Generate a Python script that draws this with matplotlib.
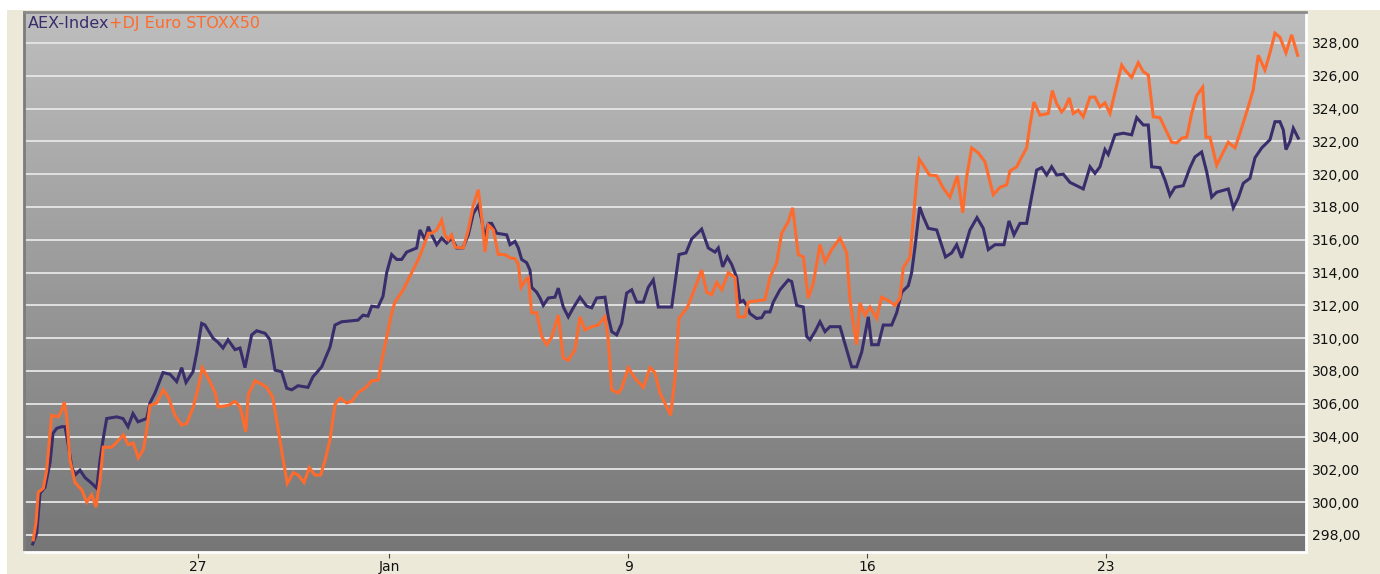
import numpy as np
import matplotlib
matplotlib.use("Agg")
import matplotlib.pyplot as plt
from matplotlib.ticker import FuncFormatter, FixedLocator
from matplotlib.colors import LinearSegmentedColormap

# time in trading days relative to Dec 27 open
aex_t = [-3.458, -3.374, -3.305, -3.201, -3.096, -3.033, -2.956, -2.851, -2.782, -2.720,
         -2.642, -2.573, -2.469, -2.364, -2.224, -2.119, -2.050, -1.987, -1.910, -1.701,
         -1.569, -1.464, -1.360, -1.255, -1.073, -1.004, -0.900, -0.732, -0.586, -0.446,
         -0.341, -0.251, -0.105, -0.027, 0.077, 0.146, 0.314, 0.418, 0.523, 0.628,
         0.774, 0.879, 0.983, 1.046, 1.123, 1.228, 1.402, 1.506, 1.611, 1.751,
         1.856, 1.960, 2.092, 2.301, 2.406, 2.588, 2.761, 2.866, 3.006, 3.347,
         3.452, 3.556, 3.634, 3.766, 3.870, 3.948, 4.052, 4.157, 4.261, 4.366,
         4.575, 4.644, 4.749, 4.818, 4.889, 4.994, 5.098, 5.203, 5.307, 5.412,
         5.544, 5.655, 5.759, 5.864, 5.935, 6.004, 6.073, 6.144, 6.249, 6.458,
         6.527, 6.632, 6.701, 6.772, 6.876, 6.945, 6.981, 7.086, 7.155, 7.224,
         7.328, 7.468, 7.537, 7.642, 7.747, 7.851, 7.991, 8.132, 8.236, 8.341,
         8.514, 8.583, 8.655, 8.759, 8.864, 8.968, 9.073, 9.178, 9.316, 9.420,
         9.525, 9.629, 9.910, 9.979, 10.063, 10.209, 10.328, 10.537, 10.675, 10.816,
         10.885, 10.977, 11.073, 11.165, 11.270, 11.339, 11.408, 11.479, 11.548, 11.688,
         11.793, 11.862, 11.966, 12.035, 12.175, 12.349, 12.420, 12.525, 12.663, 12.734,
         12.803, 12.908, 13.012, 13.117, 13.221, 13.431, 13.571, 13.675, 13.780, 13.885,
         14.023, 14.094, 14.232, 14.336, 14.512, 14.617, 14.721, 14.860, 14.930, 15.000,
         15.098, 15.173, 15.278, 15.454, 15.638, 15.767, 15.872, 15.976, 16.150, 16.297,
         16.428, 16.533, 16.673, 16.862, 16.966, 17.071, 17.196, 17.336, 17.441, 17.546,
         17.650, 17.755, 17.859, 17.964, 18.102, 18.242, 18.382, 18.520, 18.661, 18.765,
         18.870, 18.974, 19.043, 19.184, 19.357, 19.533, 19.638, 19.776, 19.880, 19.951,
         20.125, 20.230, 20.334, 20.439, 20.612, 20.753, 20.857, 20.997, 21.102, 21.207,
         21.311, 21.554, 21.659, 21.763, 21.868, 22.008, 22.112, 22.253, 22.426, 22.531,
         22.635, 22.705, 22.761, 22.845, 22.914, 23.018]
aex_v = [297.45, 298.1, 300.55, 300.9, 302.4, 304.2, 304.5, 304.6, 304.6, 303.6,
         302.15, 301.65, 301.95, 301.5, 301.15, 300.85, 302.55, 303.8, 305.1, 305.2,
         305.1, 304.6, 305.4, 304.9, 305.1, 306.05, 306.65, 307.9, 307.8, 307.35,
         308.2, 307.3, 307.95, 309.1, 310.9, 310.8, 310.0, 309.75, 309.4, 309.9,
         309.3, 309.4, 308.2, 309.1, 310.2, 310.45, 310.3, 309.9, 308.05, 307.95,
         306.95, 306.85, 307.1, 307.0, 307.65, 308.25, 309.45, 310.8, 311.0, 311.1,
         311.4, 311.35, 311.95, 311.9, 312.55, 314.0, 315.1, 314.8, 314.8, 315.25,
         315.5, 316.6, 316.0, 316.8, 316.3, 315.7, 316.1, 315.8, 316.1, 315.5,
         315.5, 316.3, 317.6, 318.1, 317.2, 316.1, 317.0, 317.0, 316.4, 316.3,
         315.7, 315.9, 315.5, 314.8, 314.6, 314.15, 313.1, 312.8, 312.45, 312.0,
         312.45, 312.5, 313.05, 311.9, 311.3, 311.85, 312.5, 311.95, 311.85, 312.45,
         312.5, 311.3, 310.4, 310.2, 310.9, 312.75, 312.95, 312.2, 312.2, 313.1,
         313.55, 311.9, 311.9, 313.35, 315.1, 315.2, 316.05, 316.65, 315.5, 315.25,
         315.5, 314.35, 314.95, 314.5, 313.7, 312.2, 312.3, 312.0, 311.5, 311.2,
         311.25, 311.6, 311.6, 312.2, 312.95, 313.55, 313.45, 312.0, 311.9, 310.1,
         309.9, 310.4, 311.0, 310.4, 310.7, 310.7, 309.3, 308.25, 308.25, 309.15,
         311.3, 309.6, 309.6, 310.8, 310.8, 311.55, 312.8, 313.2, 314.0, 315.55,
         318.0, 317.4, 316.7, 316.6, 314.95, 315.2, 315.7, 314.9, 316.6, 317.35,
         316.7, 315.4, 315.7, 315.7, 317.15, 316.3, 317.0, 317.0, 318.65, 320.25,
         320.4, 319.95, 320.45, 319.95, 320.0, 319.5, 319.3, 319.1, 320.45, 320.05,
         320.45, 321.5, 321.2, 322.4, 322.5, 322.4, 323.45, 323.0, 323.0, 320.45,
         320.4, 319.65, 318.7, 319.2, 319.3, 320.4, 321.05, 321.35, 320.15, 318.6,
         318.9, 319.1, 317.95, 318.55, 319.45, 319.75, 321.0, 321.6, 322.1, 323.2,
         323.2, 322.7, 321.5, 322.0, 322.8, 322.2]

stoxx_t = [-3.446, -3.389, -3.341, -3.236, -3.165, -3.061, -2.922, -2.851, -2.797, -2.747,
           -2.678, -2.573, -2.433, -2.328, -2.224, -2.134, -2.050, -1.981, -1.805, -1.701,
           -1.563, -1.458, -1.354, -1.249, -1.144, -1.073, -1.004, -0.864, -0.726, -0.621,
           -0.481, -0.341, -0.236, -0.098, 0.006, 0.090, 0.215, 0.356, 0.425, 0.634,
           0.774, 0.879, 0.948, 0.998, 1.052, 1.192, 1.297, 1.437, 1.563, 1.680,
           1.784, 1.868, 1.994, 2.098, 2.218, 2.328, 2.448, 2.567, 2.657, 2.761,
           2.866, 2.971, 3.111, 3.215, 3.353, 3.494, 3.634, 3.772, 3.843, 3.948,
           4.052, 4.121, 4.295, 4.471, 4.609, 4.713, 4.818, 4.889, 4.994, 5.098,
           5.167, 5.236, 5.307, 5.376, 5.550, 5.655, 5.759, 5.864, 5.935, 6.004,
           6.073, 6.178, 6.282, 6.422, 6.527, 6.632, 6.701, 6.757, 6.876, 6.910,
           6.981, 7.086, 7.190, 7.295, 7.399, 7.537, 7.642, 7.747, 7.887, 7.991,
           8.096, 8.236, 8.374, 8.514, 8.583, 8.655, 8.793, 8.864, 9.002, 9.142,
           9.316, 9.456, 9.560, 9.665, 9.805, 9.889, 9.979, 10.063, 10.240, 10.362,
           10.537, 10.642, 10.747, 10.851, 10.956, 11.094, 11.234, 11.303, 11.443, 11.512,
           11.862, 11.966, 12.106, 12.211, 12.349, 12.441, 12.558, 12.663, 12.767, 12.872,
           13.012, 13.117, 13.257, 13.431, 13.571, 13.640, 13.709, 13.780, 13.849, 13.954,
           14.058, 14.198, 14.303, 14.441, 14.581, 14.686, 14.755, 14.895, 14.964, 15.035,
           15.090, 15.173, 15.299, 15.454, 15.592, 15.732, 15.885, 15.941, 15.997, 16.081,
           16.186, 16.324, 16.464, 16.638, 16.778, 16.918, 16.987, 17.127, 17.196, 17.336,
           17.405, 17.489, 17.615, 17.788, 17.872, 17.964, 18.068, 18.138, 18.227, 18.311,
           18.416, 18.520, 18.661, 18.765, 18.870, 18.974, 19.079, 19.184, 19.324, 19.393,
           19.533, 19.671, 19.776, 19.880, 19.985, 20.125, 20.230, 20.370, 20.474, 20.579,
           20.684, 20.788, 20.893, 21.018, 21.087, 21.171, 21.311, 21.449, 21.554, 21.694,
           21.799, 21.971, 22.076, 22.181, 22.321, 22.426, 22.531, 22.635, 22.761, 22.880,
           23.006]
stoxx_v = [297.7, 298.75, 300.6, 300.85, 301.95, 305.3, 305.2, 305.6, 306.1, 305.2,
           302.55, 301.2, 300.75, 300.0, 300.45, 299.7, 301.35, 303.35, 303.35, 303.65,
           304.1, 303.5, 303.6, 302.7, 303.2, 304.4, 305.9, 306.05, 306.85, 306.4,
           305.3, 304.7, 304.8, 305.8, 307.0, 308.2, 307.55, 306.7, 305.8, 305.9,
           306.15, 305.8, 305.0, 304.3, 306.55, 307.4, 307.25, 307.0, 306.4, 304.4,
           302.55, 301.15, 301.8, 301.65, 301.2, 302.1, 301.65, 301.65, 302.55, 303.8,
           305.95, 306.35, 306.05, 306.15, 306.7, 306.95, 307.4, 307.45, 308.6, 310.05,
           311.55, 312.2, 312.95, 314.0, 314.8, 315.55, 316.4, 316.4, 316.6, 317.2,
           316.3, 316.0, 316.3, 315.55, 315.5, 316.6, 318.1, 319.05, 317.4, 315.25,
           316.9, 316.6, 315.1, 315.1, 314.9, 314.85, 314.5, 313.1, 313.65, 313.7,
           311.55, 311.55, 310.1, 309.6, 310.05, 311.4, 308.8, 308.65, 309.3, 311.3,
           310.5, 310.7, 310.8, 311.3, 309.9, 306.85, 306.65, 306.95, 308.2, 307.55,
           307.0, 308.2, 307.9, 306.65, 305.8, 305.3, 307.6, 311.2, 311.9, 312.8,
           314.15, 312.8, 312.65, 313.4, 312.95, 314.0, 313.7, 311.3, 311.3, 312.2,
           312.35, 313.7, 314.6, 316.4, 317.1, 317.95, 315.1, 314.95, 312.45, 313.35,
           315.7, 314.65, 315.4, 316.1, 315.2, 312.35, 310.9, 309.6, 312.15, 311.4,
           311.9, 311.2, 312.5, 312.3, 312.0, 312.45, 314.3, 314.95, 317.2, 319.65,
           320.9, 320.55, 319.95, 319.9, 319.15, 318.6, 319.9, 318.85, 317.65, 319.85,
           321.6, 321.3, 320.75, 318.75, 319.2, 319.35, 320.2, 320.45, 320.85, 321.6,
           323.0, 324.4, 323.6, 323.7, 325.1, 324.3, 323.8, 324.05, 324.65, 323.7,
           323.9, 323.5, 324.7, 324.7, 324.1, 324.35, 323.7, 325.0, 326.65, 326.35,
           325.9, 326.8, 326.25, 326.05, 323.5, 323.45, 322.8, 321.95, 321.9, 322.2,
           322.25, 323.7, 324.8, 325.3, 322.25, 322.25, 320.55, 321.35, 321.95, 321.6,
           322.5, 324.1, 325.15, 327.25, 326.35, 327.4, 328.6, 328.35, 327.4, 328.5,
           327.25]

tick_pos = [0, 4, 9, 14, 19]
tick_labels = ["27", "Jan", "9", "16", "23"]
y_ticks = list(range(298, 330, 2))

BEIGE = "#ece9d8"
PURPLE = "#3a2d6c"
ORANGE = "#ff6b2c"

fig = plt.figure(figsize=(13.8, 5.74), dpi=100, facecolor="white")
fig.patches.append(plt.Rectangle((7 / 1380, 0), 1 - 7 / 1380, 1 - 10 / 574,
                                 transform=fig.transFigure, facecolor=BEIGE,
                                 edgecolor="none", zorder=-10))

L, R, T, B = 24, 1306, 12, 552
ax = fig.add_axes([L / 1380, 1 - B / 574, (R - L) / 1380, (B - T) / 574])
xlim = (-3.64, 23.18)
ylim = (296.96, 329.89)
ax.set_xlim(*xlim)
ax.set_ylim(*ylim)

grad = np.linspace(0, 1, 256).reshape(-1, 1)
cmap = LinearSegmentedColormap.from_list("g", ["#767676", "#bebebe"])
ax.imshow(grad, extent=[xlim[0], xlim[1], ylim[0], ylim[1]], origin="lower",
          aspect="auto", cmap=cmap, zorder=0)

for yv in y_ticks:
    ax.axhline(yv, color="#e6e6e6", lw=1.3, zorder=1)

ax.plot(aex_t, aex_v, color=PURPLE, lw=2.2, zorder=3, solid_joinstyle="miter")
ax.plot(stoxx_t, stoxx_v, color=ORANGE, lw=2.2, zorder=4, solid_joinstyle="miter")

ax.set_yticks(y_ticks)
ax.yaxis.set_major_formatter(FuncFormatter(lambda v, p: f"{v:.2f}".replace(".", ",")))
ax.yaxis.tick_right()
ax.tick_params(axis="y", length=0, pad=4, labelsize=10, labelcolor="#111111")
ax.xaxis.set_major_locator(FixedLocator(tick_pos))
ax.set_xticklabels(tick_labels)
ax.tick_params(axis="x", length=4, width=0.8, color="#444444", pad=2,
               labelsize=10, labelcolor="#111111")

for side, col in (("left", "#7c7c7c"), ("top", "#8a8a8a"),
                  ("right", "#ffffff"), ("bottom", "#ffffff")):
    ax.spines[side].set_color(col)
    ax.spines[side].set_linewidth(2)
    ax.spines[side].set_zorder(5)

t1 = ax.text(0.003, 0.992, "AEX-Index", transform=ax.transAxes, color=PURPLE,
             fontsize=11.5, va="top", ha="left", zorder=6)
ax.annotate("+DJ Euro STOXX50", xy=(1, 0), xycoords=t1, va="bottom", ha="left",
            color=ORANGE, fontsize=11.5, zorder=6)

fig.savefig("out.png", dpi=100, facecolor=fig.get_facecolor())
